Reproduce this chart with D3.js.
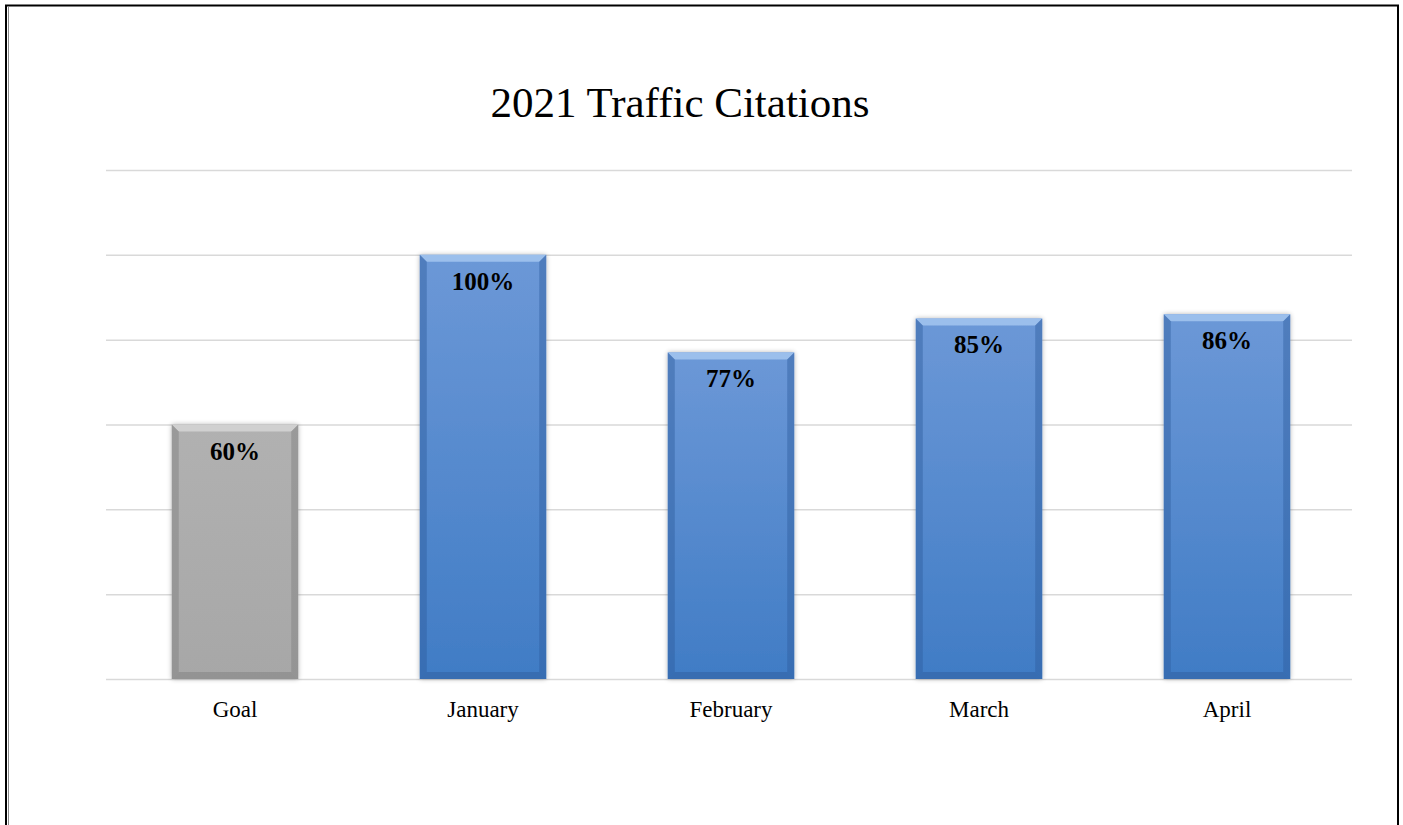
<!DOCTYPE html>
<html>
<head>
<meta charset="utf-8">
<script src="https://cdn.jsdelivr.net/npm/d3@7"></script>
<style>
  body { margin: 0; background: #fff; }
  svg { display: block; font-family: "Liberation Serif", "Times New Roman", serif; }
</style>
</head>
<body>
<svg id="bar_chart" width="1403" height="825"></svg>
<script>
let months = ['Goal', 'January', 'February', 'March', 'April'];
let rates = [60, 100, 77, 85, 86];
let yTicks = [0, 20, 40, 60, 80, 100, 120];

let width = 1403;
let height = 825;
let margin = {top: 170, right: 52, bottom: 146, left: 111};

let svg = d3.select('#bar_chart');

// frame around the chart
svg.append('path')
    .attr('d', 'M6,825 V5.5 H1398 V825')
    .attr('fill', 'none')
    .attr('stroke', '#000')
    .attr('stroke-width', 2);
svg.append('line')
    .attr('x1', 8.5).attr('x2', 8.5).attr('y1', 7).attr('y2', 825)
    .attr('stroke', '#888').attr('stroke-width', 1);

let xScale = d3.scaleBand()
    .domain(months)
    .range([margin.left, width - margin.right])
    .paddingInner(0.49)
    .paddingOuter(0.245);
let yScale = d3.scaleLinear()
    .domain([0, 120])
    .range([height - margin.bottom, margin.top]);

// gradients
let defs = svg.append('defs');
function addGrad(id, top, bottom) {
    let g = defs.append('linearGradient').attr('id', id)
        .attr('x1', 0).attr('x2', 0).attr('y1', 0).attr('y2', 1);
    g.append('stop').attr('offset', '0%').attr('stop-color', top);
    g.append('stop').attr('offset', '100%').attr('stop-color', bottom);
}
addGrad('blueFill', '#6c98d7', '#407cc5');
addGrad('grayFill', '#b1b1b1', '#a7a7a7');

let shadow = defs.append('filter').attr('id', 'shade')
    .attr('x', '-10%').attr('y', '-10%').attr('width', '120%').attr('height', '120%');
shadow.append('feGaussianBlur').attr('in', 'SourceAlpha').attr('stdDeviation', 2.5);
shadow.append('feComponentTransfer').append('feFuncA').attr('type', 'linear').attr('slope', 0.3);
let merge = shadow.append('feMerge');
merge.append('feMergeNode');
merge.append('feMergeNode').attr('in', 'SourceGraphic');

// grid lines
svg.append('g')
    .attr('class', 'grid')
    .selectAll('line')
    .data(yTicks)
    .enter()
    .append('line')
    .attr('x1', margin.left - 5)
    .attr('x2', width - margin.right + 1)
    .attr('y1', d => yScale(d) + 0.5)
    .attr('y2', d => yScale(d) + 0.5)
    .attr('stroke', '#d9d9d9')
    .attr('stroke-width', 1.5);

// bars with bevel
let bars = svg.append('g').attr('class', 'bars')
    .selectAll('g')
    .data(months)
    .enter()
    .append('g');

let bevel = 7;
bars.each(function (m, i) {
    let g = d3.select(this);
    let x0 = xScale(m);
    let x1 = x0 + xScale.bandwidth();
    let y0 = yScale(rates[i]);
    let y1 = yScale(0);
    let isGoal = m === 'Goal';
    let side = isGoal ? '#7f7f7f' : '#2f5e9e';
    g.append('rect')
        .attr('x', x0).attr('y', y0)
        .attr('width', xScale.bandwidth())
        .attr('height', y1 - y0)
        .attr('fill', isGoal ? 'url(#grayFill)' : 'url(#blueFill)')
        .attr('filter', 'url(#shade)');
    // top bevel
    g.append('polygon')
        .attr('points', [[x0, y0], [x1, y0], [x1 - bevel, y0 + bevel], [x0 + bevel, y0 + bevel]].join(' '))
        .attr('fill', isGoal ? '#d6d6d6' : '#a3c5f0')
        .attr('opacity', 0.85);
    // left bevel
    g.append('polygon')
        .attr('points', [[x0, y0], [x0 + bevel, y0 + bevel], [x0 + bevel, y1 - bevel], [x0, y1]].join(' '))
        .attr('fill', side)
        .attr('opacity', 0.45);
    // right bevel
    g.append('polygon')
        .attr('points', [[x1, y0], [x1 - bevel, y0 + bevel], [x1 - bevel, y1 - bevel], [x1, y1]].join(' '))
        .attr('fill', side)
        .attr('opacity', 0.45);
    // bottom bevel
    g.append('polygon')
        .attr('points', [[x0, y1], [x0 + bevel, y1 - bevel], [x1 - bevel, y1 - bevel], [x1, y1]].join(' '))
        .attr('fill', side)
        .attr('opacity', 0.5);
});

// value labels
svg.append('g')
    .attr('class', 'values')
    .selectAll('text')
    .data(months)
    .enter()
    .append('text')
    .attr('x', d => xScale(d) + xScale.bandwidth() / 2)
    .attr('y', (d, i) => yScale(rates[i]) + 35)
    .attr('text-anchor', 'middle')
    .attr('font-size', '25px')
    .attr('font-weight', 'bold')
    .attr('fill', '#000')
    .text((d, i) => rates[i] + '%');

// x axis labels
let xAxis = d3.axisBottom(xScale).tickSize(0).tickPadding(22);
svg.append('g')
    .attr('class', 'xAxis')
    .attr('transform', 'translate(0,' + yScale(0) + ')')
    .call(xAxis)
    .call(g => g.select('.domain').remove())
    .selectAll('text')
    .attr('font-family', '"Liberation Serif", "Times New Roman", serif')
    .attr('font-size', '23px')
    .attr('fill', '#000');

// title
svg.append('text')
    .attr('x', 680)
    .attr('y', 117)
    .attr('text-anchor', 'middle')
    .attr('font-size', '43px')
    .attr('fill', '#000')
    .text('2021 Traffic Citations');
</script>
</body>
</html>
